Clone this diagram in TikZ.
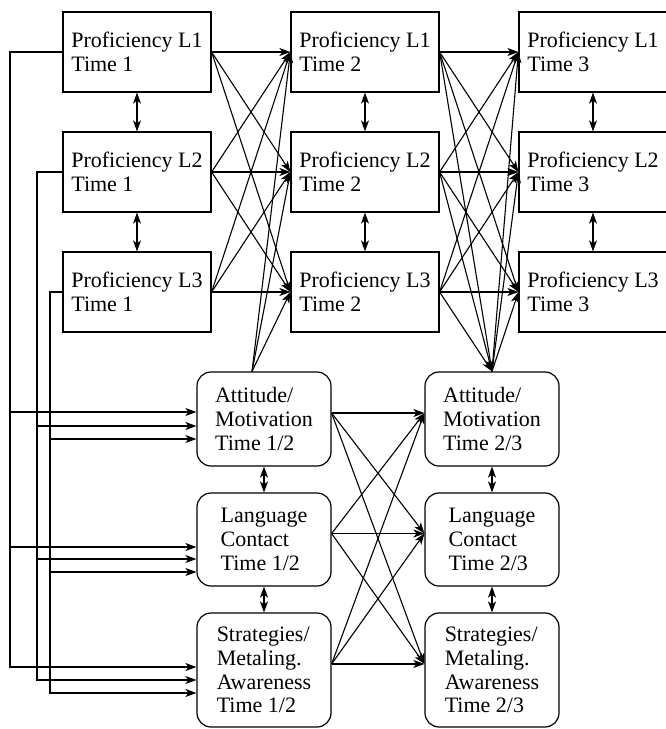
\documentclass[tikz,border=0pt]{standalone}
\usepackage{fontspec}
\newfontfamily\diagfont{Liberation Serif}
\usetikzlibrary{arrows.meta}
\begin{document}
\begin{tikzpicture}[x=1pt,y=-1pt,
  box/.style={draw, line width=1.2pt, minimum width=148pt, minimum height=80pt,
    inner sep=0pt, align=left, font=\diagfont\fontsize{22}{23.7}\selectfont},
  rbox/.style={box, rounded corners=14pt, minimum width=134pt},
  arr/.style={line width=1.1pt, -{Stealth[length=11pt,width=8pt,inset=3pt]}},
  dbl/.style={line width=1.1pt, {Stealth[length=11pt,width=8pt,inset=3pt]}-{Stealth[length=11pt,width=8pt,inset=3pt]}}
]
\useasboundingbox (0,0) rectangle (665,729);

% proficiency measures, three columns (times) by three rows (languages)
\foreach \c/\x in {1/137,2/365,3/593}
  \foreach \r/\y in {1/52,2/172,3/292}
    \node[box] (p\c\r) at (\x,\y) {Proficiency L\r\\Time \c};

% learner variables between measurement points
\node[rbox, minimum height=94pt]  (a1) at (264,419)   {Attitude/\\Motivation\\Time 1/2};
\node[rbox, minimum height=93pt]  (l1) at (264,539.5) {Language\\Contact\\Time 1/2};
\node[rbox, minimum height=114pt] (s1) at (264,670)   {Strategies/\\Metaling.\\Awareness\\Time 1/2};
\node[rbox, minimum height=94pt]  (a2) at (492,419)   {Attitude/\\Motivation\\Time 2/3};
\node[rbox, minimum height=93pt]  (l2) at (492,539.5) {Language\\Contact\\Time 2/3};
\node[rbox, minimum height=114pt] (s2) at (492,670)   {Strategies/\\Metaling.\\Awareness\\Time 2/3};

% correlations within a time point
\foreach \c in {1,2,3} {
  \draw[dbl] (p\c1.south) -- (p\c2.north);
  \draw[dbl] (p\c2.south) -- (p\c3.north);
}
\foreach \k in {1,2} {
  \draw[dbl] (a\k.south) -- (l\k.north);
  \draw[dbl] (l\k.south) -- (s\k.north);
}

% cross-lagged paths between proficiency measures
\foreach \i in {1,2,3}
  \foreach \j in {1,2,3} {
    \draw[arr] (p1\i.east) -- (p2\j.west);
    \draw[arr] (p2\i.east) -- (p3\j.west);
  }

% attitude/motivation feeding the next proficiency measures
\coordinate (ta) at ([xshift=-12pt]a1.north);
\coordinate (tb) at (a2.north);
\foreach \j in {1,2,3} {
  \draw[arr] (ta) -- (p2\j.west);
  \draw[arr] (p2\j.east) -- (tb);
  \draw[arr] (tb) -- (p3\j.west);
}

% paths between the learner variables
\foreach \i in {a1,l1,s1}
  \foreach \j in {a2,l2,s2}
    \draw[arr] ([yshift=6pt]\i.east) -- ([yshift=6pt]\j.west);

% proficiency at time 1 predicting the learner variables
\foreach \x/\src/\ya/\yl/\ys in {10/p11/412/547/667, 37/p12/426/559/680, 50/p13/439/572/693} {
  \coordinate (ba) at (\x,\ya);
  \coordinate (bl) at (\x,\yl);
  \coordinate (bs) at (\x,\ys);
  \draw[arr] (\src.west) -| (bs) -- (bs -| s1.west);
  \draw[arr] (ba) -- (ba -| a1.west);
  \draw[arr] (bl) -- (bl -| l1.west);
}
\end{tikzpicture}
\end{document}
